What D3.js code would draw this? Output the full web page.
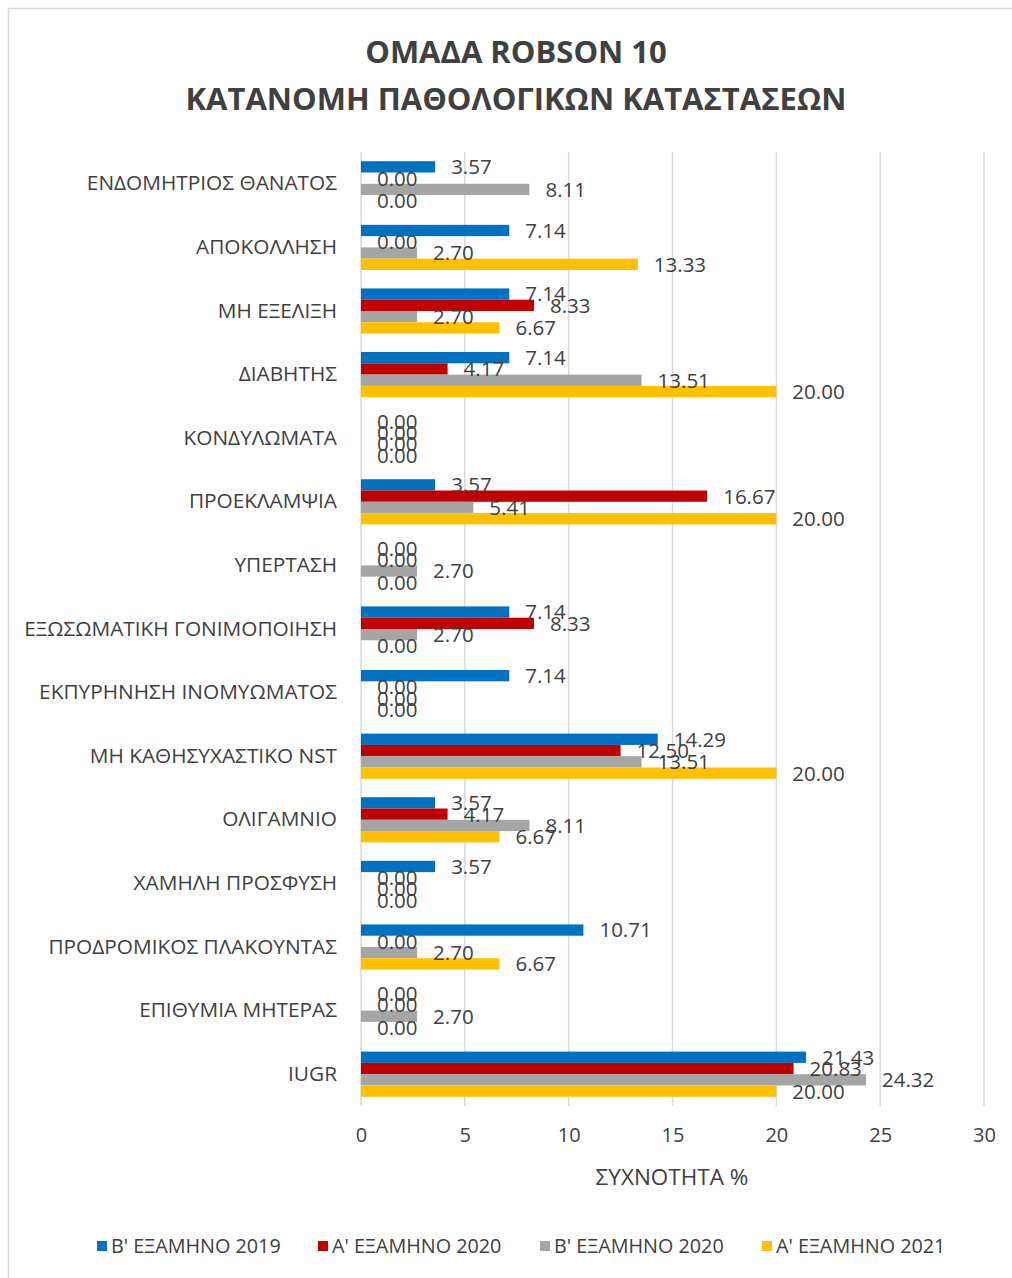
<!DOCTYPE html>
<html>
<head>
<meta charset="utf-8">
<script src="https://cdn.jsdelivr.net/npm/d3@7/dist/d3.min.js"></script>
<style>
  html, body { margin: 0; padding: 0; background: #fff; }
  svg text { font-family: "Open Sans", sans-serif; }
</style>
</head>
<body>
<svg id="chart"></svg>
<script>
// categories top to bottom
const categories = [
  "ΕΝΔΟΜΗΤΡΙΟΣ ΘΑΝΑΤΟΣ",
  "ΑΠΟΚΟΛΛΗΣΗ",
  "ΜΗ ΕΞΕΛΙΞΗ",
  "ΔΙΑΒΗΤΗΣ",
  "ΚΟΝΔΥΛΩΜΑΤΑ",
  "ΠΡΟΕΚΛΑΜΨΙΑ",
  "ΥΠΕΡΤΑΣΗ",
  "ΕΞΩΣΩΜΑΤΙΚΗ ΓΟΝΙΜΟΠΟΙΗΣΗ",
  "ΕΚΠΥΡΗΝΗΣΗ ΙΝΟΜΥΩΜΑΤΟΣ",
  "ΜΗ ΚΑΘΗΣΥΧΑΣΤΙΚΟ NST",
  "ΟΛΙΓΑΜΝΙΟ",
  "ΧΑΜΗΛΗ ΠΡΟΣΦΥΣΗ",
  "ΠΡΟΔΡΟΜΙΚΟΣ ΠΛΑΚΟΥΝΤΑΣ",
  "ΕΠΙΘΥΜΙΑ ΜΗΤΕΡΑΣ",
  "IUGR"
];

const seriesNames = ["Β' ΕΞΑΜΗΝΟ 2019", "Α' ΕΞΑΜΗΝΟ 2020", "Β' ΕΞΑΜΗΝΟ 2020", "Α' ΕΞΑΜΗΝΟ 2021"];
const seriesColors = ["#0070C0", "#C00000", "#A5A5A5", "#FFC000"];

const b2019 = [3.57, 7.14, 7.14, 7.14, 0.00, 3.57, 0.00, 7.14, 7.14, 14.29, 3.57, 3.57, 10.71, 0.00, 21.43];
const a2020 = [0.00, 0.00, 8.33, 4.17, 0.00, 16.67, 0.00, 8.33, 0.00, 12.50, 4.17, 0.00, 0.00, 0.00, 20.83];
const b2020 = [8.11, 2.70, 2.70, 13.51, 0.00, 5.41, 2.70, 2.70, 0.00, 13.51, 8.11, 0.00, 2.70, 2.70, 24.32];
const a2021 = [0.00, 13.33, 6.67, 20.00, 0.00, 20.00, 0.00, 0.00, 0.00, 20.00, 6.67, 0.00, 6.67, 0.00, 20.00];

const xTicks = [0, 5, 10, 15, 20, 25, 30];

const titleLines = ["ΟΜΑΔΑ ROBSON 10", "ΚΑΤΑΝΟΜΗ ΠΑΘΟΛΟΓΙΚΩΝ ΚΑΤΑΣΤΑΣΕΩΝ"];
const xTitle = "ΣΥΧΝΟΤΗΤΑ %";

const allSeries = [b2019, a2020, b2020, a2021];

const width = 1012, height = 1278;
const margin = { top: 152, right: 28, bottom: 172, left: 361 };
const textColor = "#404040";

const svg = d3.select("#chart").attr("width", width).attr("height", height);

// chart border
svg.append("rect")
  .attr("x", 8.5).attr("y", 8.5)
  .attr("width", width).attr("height", height)
  .attr("fill", "none").attr("stroke", "#d9d9d9").attr("stroke-width", 1.5);

// title
svg.append("g").selectAll("text")
  .data(titleLines)
  .enter().append("text")
  .attr("x", 516)
  .attr("y", (d, i) => 63 + i * 47)
  .attr("text-anchor", "middle")
  .attr("font-size", 31)
  .attr("font-weight", "bold")
  .attr("fill", textColor)
  .text(d => d);

const x = d3.scaleLinear()
  .domain([0, 30])
  .range([margin.left, width - margin.right]);

const y = d3.scaleBand()
  .domain(categories)
  .range([margin.top, height - margin.bottom])
  .paddingInner(0.29)
  .paddingOuter(0.145);

const inner = d3.scaleBand()
  .domain(d3.range(allSeries.length))
  .range([0, y.bandwidth()]);

// GRIDLINES
svg.append("g")
  .selectAll("line")
  .data(xTicks)
  .enter().append("line")
  .attr("x1", d => x(d)).attr("x2", d => x(d))
  .attr("y1", margin.top).attr("y2", height - margin.bottom)
  .attr("stroke", "#d9d9d9")
  .attr("stroke-width", 1.5);

// X AXIS
const xAxis = svg.append("g")
  .attr("transform", `translate(0,${height - margin.bottom})`)
  .call(d3.axisBottom(x).tickValues(xTicks).tickSize(0).tickPadding(22));
xAxis.select(".domain").remove();
xAxis.selectAll("text")
  .attr("font-size", 20)
  .attr("fill", textColor)
  .style("font-family", "Open Sans, sans-serif");

svg.append("text")
  .attr("x", 672)
  .attr("y", 1185)
  .attr("text-anchor", "middle")
  .attr("font-size", 22.5)
  .attr("fill", textColor)
  .text(xTitle);

// Y AXIS labels
const yAxis = svg.append("g")
  .attr("transform", `translate(${margin.left},0)`)
  .call(d3.axisLeft(y).tickSize(0).tickPadding(24));
yAxis.select(".domain").remove();
yAxis.selectAll("text")
  .attr("font-size", 20.8)
  .attr("fill", textColor)
  .style("font-family", "Open Sans, sans-serif");

// BARS
const rows = [];
categories.forEach((c, ci) => {
  allSeries.forEach((s, si) => rows.push({ cat: c, si: si, value: s[ci] }));
});

svg.append("g")
  .selectAll("rect")
  .data(rows)
  .enter().append("rect")
  .attr("x", x(0))
  .attr("y", d => y(d.cat) + inner(d.si))
  .attr("width", d => x(d.value) - x(0))
  .attr("height", inner.bandwidth())
  .attr("fill", d => seriesColors[d.si]);

// DATA LABELS
svg.append("g")
  .selectAll("text")
  .data(rows)
  .enter().append("text")
  .attr("x", d => x(d.value) + 16)
  .attr("y", d => y(d.cat) + inner(d.si) + inner.bandwidth() / 2)
  .attr("dy", "0.36em")
  .attr("font-size", 20.5)
  .attr("fill", textColor)
  .text(d => d.value.toFixed(2));

// LEGEND
const legendX = [97, 318, 540, 762];
const legend = svg.append("g")
  .selectAll("g")
  .data(seriesNames)
  .enter().append("g")
  .attr("transform", (d, i) => `translate(${legendX[i]},1246)`);
legend.append("rect")
  .attr("x", 0).attr("y", -5)
  .attr("width", 10).attr("height", 10)
  .attr("fill", (d, i) => seriesColors[i]);
legend.append("text")
  .attr("x", 14)
  .attr("dy", "0.36em")
  .attr("font-size", 19.8)
  .attr("fill", textColor)
  .text(d => d);
</script>
</body>
</html>
